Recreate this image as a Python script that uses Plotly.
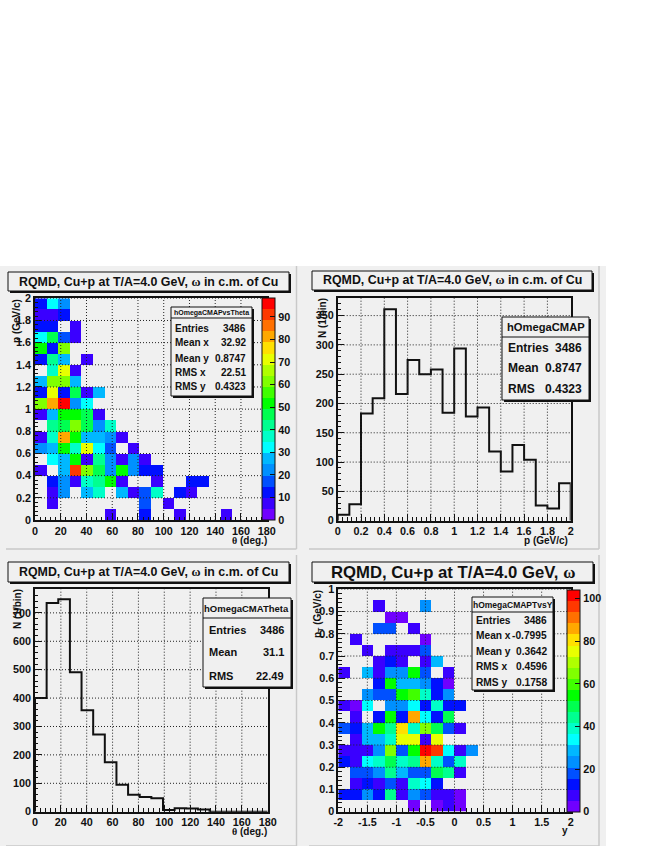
import numpy as np
import plotly.graph_objects as go

_ = None
W, H = 654, 846

# ROOT rainbow palette, bottom to top of the colour bar
PALETTE = ["#7000ff", "#3a00ff", "#0010ff", "#0050ff", "#0090ff",
           "#00b8ff", "#00ffff", "#00ffc8", "#00ff90", "#00ff50",
           "#00ff00", "#40ff00", "#80ff00", "#b0ff00", "#e8ff00",
           "#ffe000", "#ffa800", "#ff7000", "#ff3800", "#ff0000"]

# hOmegaCMAPvsTheta: one row per p bin, p = 0 first, 9 deg bins
P_THETA_ROWS = [
    [_, _, _, _, _, _, 7, _, _, 12, _, _, 7, _, _, _, 7],
    [_, 7, _, _, _, _, _, _, _, 17, _, 7],
    [_, 7, 22, _, 27, 37, _, 27, 7, 17, 37, _, 12, 7],
    [_, 12, 22, 7, 37, 42, 52, 7, _, _, 7, _, _, 12, 12],
    [7, _, 27, 92, 62, 47, 22, 52, 22, 12, 12],
    [_, 32, 27, 52, 7, 42, 22, 7, 22, 7],
    [22, 27, 52, 37, 72, 32, 17, _, 7],
    [7, 37, 82, 52, 27, 27, 22, 7],
    [_, 42, 47, 62, 47, 22, 37],
    [7, 27, 52, 52, 47, 7],
    [62, 82, 97, 22, 32],
    [12, 72, 12, 47, 7, 27],
    [27, 62, 62, 27],
    [_, 37, 72, 7],
    [12, 42, 27, _, 7],
    [52, 12, 62],
    [32, 47, 17, 7],
    [12, 12, _, 7],
    [7, 7, 12],
    [12, 32, 22],
]

# hOmegaCMAP
P_COUNTS = [10, 28, 183, 209, 361, 216, 274, 250, 258, 184,
            294, 178, 193, 118, 84, 129, 104, 26, 21, 64]

# hOmegaCMATheta
THETA_COUNTS = [400, 735, 748, 491, 357, 272, 174, 95, 60, 52,
                47, 6, 12, 11, 8, 0, 0, 0, 0, 0]

# hOmegaCMAPTvsY: one row per pT bin, pT = 0 first, 0.2 wide y bins
PT_Y_ROWS = [
    [_, _, _, _, _, _, 3, _, 3, 8, 3],
    [13, 13, 23, 13, 44, 8, 23, 18, 8, 8, 3],
    [_, 8, 13, 8, 18, 8, 39, 34, 13],
    [_, 18, 18, 23, 44, 28, 18, 18, 49, 44, 8],
    [13, 8, 34, 39, 49, 39, 44, 85, 39, 18, 39],
    [8, 8, 8, 23, 65, 18, 54, 101, 96, 34, 8, 23],
    [_, 8, 28, 28, 39, 75, 75, 8, 75],
    [18, 13, 28, 54, 44, 80, 39, 65, 49, 18, 8],
    [_, 8, _, 13, 54, 13, 85, 34, 13, 49],
    [8, 3, 34, _, 23, 23, 34, 13, 39, 13, 13],
    [_, _, 23, 18, 18, 54, 60, 39, 13, 23],
    [_, _, _, 13, 54, 28, 28, 23, 13, 3],
    [8, _, 28, 8, 23, 23, 54, 18, _, 8],
    [_, _, _, 8, 13, 8, _, 8, 28],
    [_, _, 8, _, 8, 8, 8, 18],
    [_, 8, _, _, _, _, _, 3],
    [_, _, _, 18, 18, _, 8],
    [_, _, _, _, 3, 3],
    [_, _, _, 8, _, _, _, 23],
    [],
]

THETA_TICKS = [0, 20, 40, 60, 80, 100, 120, 140, 160, 180]
P_TICKS = [0, 0.2, 0.4, 0.6, 0.8, 1, 1.2, 1.4, 1.6, 1.8, 2]
Y_TICKS = [-2, -1.5, -1, -0.5, 0, 0.5, 1, 1.5, 2]
PT_TICKS = [0, 0.1, 0.2, 0.3, 0.4, 0.5, 0.6, 0.7, 0.8, 0.9, 1]
P_COUNT_TICKS = [0, 50, 100, 150, 200, 250, 300, 350]
THETA_COUNT_TICKS = [0, 100, 200, 300, 400, 500, 600, 700]

OMEGA = "<span style=\"font-family:'Liberation Serif'\">ω</span>"
THETA = "<span style=\"font-family:'Liberation Serif'\">θ</span>"
TITLE_CM = "RQMD, Cu+p at T/A=4.0 GeV, " + OMEGA + " in c.m. of Cu"
TITLE_SHORT = "RQMD, Cu+p at T/A=4.0 GeV, " + OMEGA

STATS_2D_A = [("Entries", "3486"), ("Mean x", "32.92"), ("Mean y", "0.8747"),
              ("RMS x", "22.51"), ("RMS y", "0.4323")]
STATS_P = [("Entries", "3486"), ("Mean", "0.8747"), ("RMS", "0.4323")]
STATS_THETA = [("Entries", "3486"), ("Mean", "31.1"), ("RMS", "22.49")]
STATS_2D_B = [("Entries", "3486"), ("Mean x", "-0.7995"), ("Mean y", "0.3642"),
              ("RMS x", "0.4596"), ("RMS y", "0.1758")]

FONT = "Liberation Sans"
INK = "#111111"
PAD = "#f0f0f0"
TICK_SIZE = 10.8


def px(x):
    return x / W


def py(y):
    return 1 - y / H


def pad_rows(rows, n=20):
    return [r + [None] * (n - len(r)) for r in rows]


fig = go.Figure()
shapes = []
notes = []


def rect(x0, y0, x1, y1, fill, line=None, lw=1):
    shapes.append(dict(type="rect", xref="paper", yref="paper", x0=px(x0), x1=px(x1),
                       y0=py(y1), y1=py(y0), fillcolor=fill, layer="below",
                       line=dict(color=line or fill, width=lw if line else 0)))


def box(x0, y0, x1, y1):
    # framed box with ROOT's hard drop shadow, above the plot
    for xa, ya, xb, yb, fill, lw in [(x0 + 2, y0 + 2, x1 + 2, y1 + 2, INK, 0), (x0, y0, x1, y1, PAD, 1)]:
        shapes.append(dict(type="rect", xref="paper", yref="paper", x0=px(xa), x1=px(xb),
                           y0=py(yb), y1=py(ya), fillcolor=fill, layer="above",
                           line=dict(color=INK, width=lw)))


def note(x, y, text, size, anchor="center", angle=0, weight="bold"):
    notes.append(dict(xref="paper", yref="paper", x=px(x), y=py(y), text=text, showarrow=False,
                      xanchor=anchor, yanchor="middle", textangle=angle, borderpad=0,
                      font=dict(family=FONT, size=size, color=INK, weight=weight)))


def pad(x0, y0, x1, y1):
    rect(x0, y0, x1, y1, PAD)
    for xa, ya, xb, yb, col in [(x0, y1, x1, y1, "#c9c9c9"), (x1, y0, x1, y1, "#c9c9c9")]:
        shapes.append(dict(type="line", xref="paper", yref="paper", x0=px(xa), x1=px(xb), y0=py(ya), y1=py(yb),
                           layer="below", line=dict(color=col, width=1.5)))


def axes(idx, frame, xr, yr, xticks, yticks, xminor, yminor):
    x0, y0, x1, y1 = frame
    common = dict(showline=True, mirror=True, linecolor=INK, linewidth=1.5, ticks="inside", ticklen=7,
                  tickcolor=INK, tickwidth=1, showgrid=False, zeroline=False,
                  tickfont=dict(family=FONT, size=TICK_SIZE, color=INK, weight="bold"), tickmode="array")
    suffix = str(idx)
    fig.update_layout({
        "xaxis" + suffix: dict(common, domain=[px(x0), px(x1)], range=xr, anchor="y" + suffix,
                               tickvals=xticks, ticktext=[str(t) for t in xticks],
                               minor=dict(ticks="inside", ticklen=3.5, tick0=xr[0], dtick=xminor, tickcolor=INK, showgrid=False)),
        "yaxis" + suffix: dict(common, domain=[py(y1), py(y0)], range=yr, anchor="x" + suffix,
                               tickvals=yticks, ticktext=[str(t) for t in yticks],
                               minor=dict(ticks="inside", ticklen=3.5, tick0=yr[0], dtick=yminor, tickcolor=INK, showgrid=False)),
    })
    # dotted grid has to lie over the heat map cells
    for t in xticks[1:-1]:
        shapes.append(dict(type="line", xref="x" + suffix, yref="y" + suffix, x0=t, x1=t, y0=yr[0], y1=yr[1],
                           layer="above", line=dict(color="#222222", width=1, dash="1px,2px")))
    for t in yticks[1:]:
        shapes.append(dict(type="line", xref="x" + suffix, yref="y" + suffix, y0=t, y1=t, x0=xr[0], x1=xr[1],
                           layer="above", line=dict(color="#222222", width=1, dash="1px,2px")))


def heat(idx, rows, xedges, yedges, zmax, bar_x, frame, dtick):
    scale = []
    for i, c in enumerate(PALETTE):
        scale += [[i / len(PALETTE), c], [(i + 1) / len(PALETTE), c]]
    fig.add_trace(go.Heatmap(
        x=xedges, y=yedges, z=pad_rows(rows), xaxis="x" + str(idx), yaxis="y" + str(idx),
        zmin=0, zmax=zmax, colorscale=scale, hoverongaps=False,
        colorbar=dict(x=px(bar_x), xanchor="left", thickness=13, thicknessmode="pixels",
                      y=py(frame[3]), yanchor="bottom", len=frame[3] - frame[1], lenmode="pixels",
                      xpad=0, ypad=0, outlinecolor=INK, outlinewidth=1, borderwidth=0, tick0=0, dtick=dtick,
                      ticks="inside", ticklen=5, tickcolor=INK,
                      tickfont=dict(family=FONT, size=TICK_SIZE, color=INK, weight="bold"))))


def hist(idx, counts, edges):
    fig.add_trace(go.Scatter(
        x=[edges[0]] + list(edges), y=[0] + list(counts) + [0], xaxis="x" + str(idx), yaxis="y" + str(idx),
        mode="lines", line=dict(color=INK, width=2, shape="hv"), cliponaxis=False, showlegend=False))


def stats(x0, y0, x1, y1, head_y, head, head_size, rows, row_ys, size, left, right):
    box(x0, y0, x1, y1)
    shapes.append(dict(type="line", xref="paper", yref="paper", x0=px(x0), x1=px(x1), y0=py(head_y), y1=py(head_y),
                       layer="above", line=dict(color=INK, width=1)))
    note((x0 + x1) / 2, (y0 + head_y) / 2, head, head_size)
    for (k, v), ry in zip(rows, row_ys):
        note(left, ry, k, size, "left")
        note(right, ry, v, size, "right")


THETA_EDGES = np.arange(0, 181, 9)
P_EDGES = np.round(np.arange(0, 2.01, 0.1), 2)
Y_EDGES = np.round(np.arange(-2, 2.01, 0.2), 2)
PT_EDGES = np.round(np.arange(0, 1.001, 0.05), 3)

FRAME_1 = (35, 298.3, 266.7, 520)
FRAME_2 = (337.7, 298, 570.7, 520.7)
FRAME_3 = (35, 589.3, 267.7, 811.7)
FRAME_4 = (338.3, 589.3, 570.7, 811.7)

rect(0, 266, 606, 846, PAD)
pad(6, 266, 296.5, 549)
pad(309, 266, 599, 549)
pad(6, 555, 296.5, 846)
pad(309, 555, 599, 846)

heat(1, P_THETA_ROWS, THETA_EDGES, P_EDGES, 98.4, 262, FRAME_1, 10)
axes(1, FRAME_1, [0, 180], [0, 2], THETA_TICKS, P_TICKS, 4, 0.04)

hist(2, P_COUNTS, P_EDGES)
axes(2, FRAME_2, [0, 2], [0, 380], P_TICKS, P_COUNT_TICKS, 0.04, 10)

hist(3, THETA_COUNTS, THETA_EDGES)
axes(3, FRAME_3, [0, 180], [0, 783], THETA_TICKS, THETA_COUNT_TICKS, 4, 20)

heat(4, PT_Y_ROWS, Y_EDGES, PT_EDGES, 104.2, 566.7, FRAME_4, 20)
axes(4, FRAME_4, [-2, 2], [0, 1], Y_TICKS, PT_TICKS, 0.1, 0.02)

# title boxes
for x0, y0, x1, y1, text, size in [(8, 272, 289, 291, TITLE_CM, 12.4), (312, 271, 592, 290, TITLE_CM, 12.4),
                                   (8, 562, 289, 582, TITLE_CM, 12.4), (312, 562, 593, 582, TITLE_SHORT, 16.7)]:
    box(x0, y0, x1, y1)
    note((x0 + x1) / 2, (y0 + y1) / 2, text, size)

# stats boxes
stats(171, 307, 252, 396, 318, "hOmegaCMAPvsTheta", 7, STATS_2D_A, [328, 342, 358, 372, 387], 10, 174, 247)
stats(502, 317, 589, 400, 337, "hOmegaCMAP", 11.2, STATS_P, [348, 368, 389], 12, 507, 583)
stats(203, 598, 291, 687, 618, "hOmegaCMATheta", 9.5, STATS_THETA, [630, 652, 676], 11, 208, 285)
stats(472, 597, 553, 690, 612, "hOmegaCMAPTvsY", 8.5, STATS_2D_B, [620, 635, 651, 666, 682], 10.2, 475, 548)

# axis titles sit where ROOT left them, partly over the tick labels
note(267.5, 540, THETA + " (deg.)", 10, "right")
note(569, 540, "p (GeV/c)", 10, "right")
note(267.5, 831, THETA + " (deg.)", 10, "right")
note(569, 830, "y", 10, "right")
note(17, 321, "p (GeV/c)", 10, angle=-90)
note(322, 318, "N (1/bin)", 10, angle=-90)
note(17, 609, "N (1/bin)", 10, angle=-90)
note(318, 614, "p<sub>T</sub> (GeV/c)", 10, angle=-90)

fig.update_layout(width=W, height=H, margin=dict(l=0, r=0, t=0, b=0, autoexpand=False), paper_bgcolor="white",
                  plot_bgcolor="rgba(0,0,0,0)", showlegend=False, shapes=shapes, annotations=notes)

fig.write_html("out.html", config={"displayModeBar": False},
               post_script="document.body.style.margin='0';")
